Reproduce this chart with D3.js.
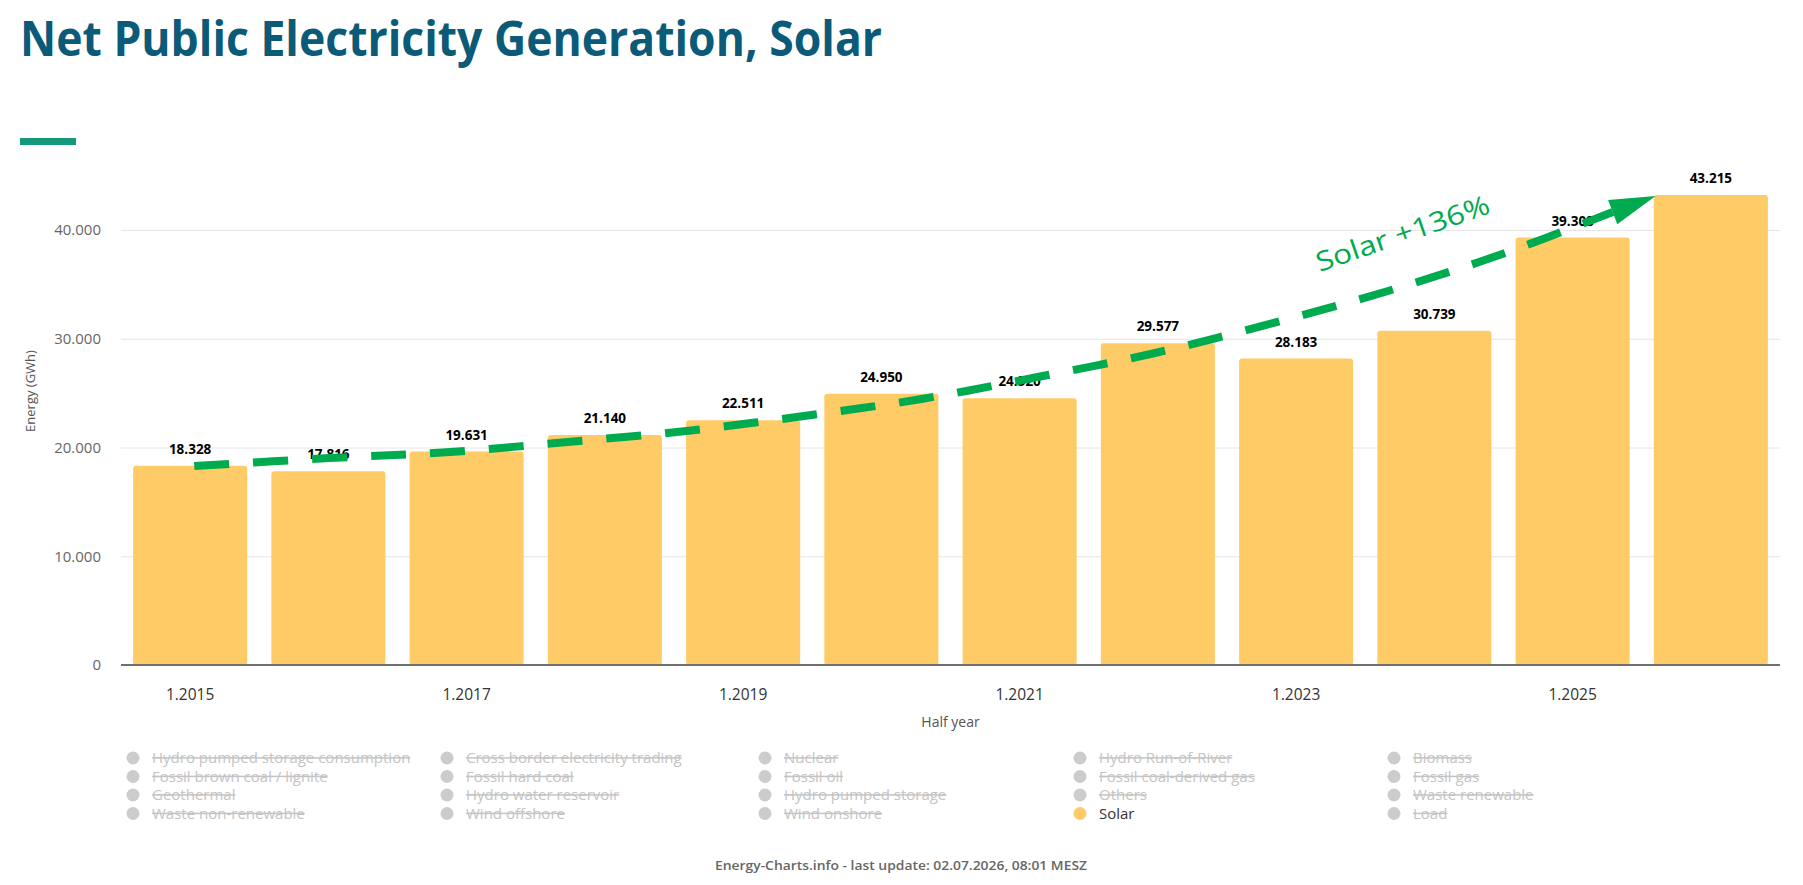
<!DOCTYPE html>
<html>
<head>
<meta charset="utf-8">
<script src="https://cdn.jsdelivr.net/npm/d3@7"></script>
<style>
  body { margin: 0; background: #fff; }
  svg { display: block; font-family: "Open Sans", sans-serif; }
</style>
</head>
<body>
<div id="chart-area"></div>
<script>
// half-year categories (H1 of each year)
var categories = ["1.2015", "1.2016", "1.2017", "1.2018", "1.2019", "1.2020",
                  "1.2021", "1.2022", "1.2023", "1.2024", "1.2025", "1.2026"];
var solarValues = [18328, 17816, 19631, 21140, 22511, 24950,
                   24520, 29577, 28183, 30739, 39308, 43215];
var yTicks = [0, 10000, 20000, 30000, 40000];
var xTickLabels = ["1.2015", "1.2017", "1.2019", "1.2021", "1.2023", "1.2025"];

var legendItems = [
  "Hydro pumped storage consumption", "Cross border electricity trading", "Nuclear", "Hydro Run-of-River", "Biomass",
  "Fossil brown coal / lignite", "Fossil hard coal", "Fossil oil", "Fossil coal-derived gas", "Fossil gas",
  "Geothermal", "Hydro water reservoir", "Hydro pumped storage", "Others", "Waste renewable",
  "Waste non-renewable", "Wind offshore", "Wind onshore", "Solar", "Load"
];
var activeSeries = "Solar";

// trend arrow, in [band index, GWh]
var trendPoints = [[0.03, 18300], [1.01, 19030], [1.88, 19590], [2.73, 20510], [3.59, 21520],
                   [4.44, 22900], [5.29, 24460], [6.13, 26480], [6.98, 28690], [7.81, 31360],
                   [8.64, 34300], [9.47, 37700], [10.29, 41650]];
var trendTip = [10.6, 43130];
var trendLabel = "Solar +136%";
var trendLabelPos = [8.17, 36140];

var W = 1803, H = 885;
var plot = { left: 121, right: 1780, top: 230, bottom: 665 };

var svg = d3.select("#chart-area").append("svg")
    .attr("width", W).attr("height", H);

var loc = d3.formatLocale({ decimal: ",", thousands: ".", grouping: [3], currency: ["", " €"] });
var fmt = loc.format(",.0f");

var x = d3.scaleBand()
    .domain(categories)
    .range([plot.left, plot.right])
    .paddingInner(0.175)
    .paddingOuter(0.0875);

var y = d3.scaleLinear()
    .domain([0, 40000])
    .range([plot.bottom, plot.top]);

function xi(i) { return x(categories[0]) + x.bandwidth() / 2 + i * x.step(); }

// title
svg.append("text")
    .attr("x", 20).attr("y", 56)
    .attr("fill", "#0a5a78")
    .style("font-family", "'Liberation Sans Narrow', 'Open Sans', sans-serif")
    .style("font-weight", 700)
    .style("font-size", "49px")
    .attr("textLength", 862)
    .attr("lengthAdjust", "spacingAndGlyphs")
    .text("Net Public Electricity Generation, Solar");

svg.append("rect")
    .attr("x", 20).attr("y", 138).attr("width", 56).attr("height", 7)
    .attr("fill", "#17977a");

// y axis + grid
var yAxis = d3.axisLeft(y)
    .tickValues(yTicks)
    .tickSize(-(plot.right - plot.left))
    .tickPadding(20)
    .tickFormat(fmt);

var gy = svg.append("g")
    .attr("transform", "translate(" + plot.left + ",0)")
    .call(yAxis);
gy.select(".domain").remove();
gy.selectAll(".tick line").attr("stroke", "#e6e6e6");
gy.selectAll(".tick text")
    .attr("fill", "#666")
    .style("font-size", "15px")
    .style("font-family", "'Open Sans', sans-serif");

svg.append("text")
    .attr("transform", "translate(35," + 391 + ") rotate(-90)")
    .attr("text-anchor", "middle")
    .attr("fill", "#555")
    .style("font-size", "13px")
    .text("Energy (GWh)");

// bars
svg.append("g").selectAll("rect")
    .data(solarValues)
    .enter().append("rect")
    .attr("x", function (d, i) { return x(categories[i]); })
    .attr("y", function (d) { return y(d); })
    .attr("width", x.bandwidth())
    .attr("height", function (d) { return y(0) - y(d); })
    .attr("rx", 3)
    .attr("fill", "#fecb66");

// x axis
var xAxis = d3.axisBottom(x)
    .tickValues(xTickLabels)
    .tickSize(0)
    .tickPadding(24);

var gx = svg.append("g")
    .attr("transform", "translate(0," + plot.bottom + ")")
    .call(xAxis);
gx.select(".domain").remove();
gx.selectAll(".tick text")
    .attr("fill", "#333")
    .style("font-size", "15.5px")
    .style("font-family", "'Open Sans', sans-serif");

svg.append("line")
    .attr("x1", plot.left).attr("x2", plot.right)
    .attr("y1", plot.bottom).attr("y2", plot.bottom)
    .attr("stroke", "#6f6f6f").attr("stroke-width", 2);

svg.append("text")
    .attr("x", (plot.left + plot.right) / 2).attr("y", 727)
    .attr("text-anchor", "middle")
    .attr("fill", "#555")
    .style("font-size", "14px")
    .text("Half year");

// data labels
svg.append("g").selectAll("text")
    .data(solarValues)
    .enter().append("text")
    .attr("x", function (d, i) { return x(categories[i]) + x.bandwidth() / 2; })
    .attr("y", function (d) { return y(d) - 12; })
    .attr("text-anchor", "middle")
    .attr("fill", "#000")
    .style("font-size", "13.5px")
    .style("font-weight", 700)
    .text(function (d) { return fmt(d); });

// trend arrow
var green = "#00aa4e";
var line = d3.line()
    .x(function (d) { return xi(d[0]); })
    .y(function (d) { return y(d[1]); })
    .curve(d3.curveCatmullRom);

svg.append("path")
    .attr("d", line(trendPoints))
    .attr("fill", "none")
    .attr("stroke", green)
    .attr("stroke-width", 8)
    .attr("stroke-dasharray", "35 24");

var base = trendPoints[trendPoints.length - 1];
var bx = xi(base[0]), by = y(base[1]);
var tx = xi(trendTip[0]), ty = y(trendTip[1]);
var ang = Math.atan2(ty - by, tx - bx);
var hw = 13;
var nx = -Math.sin(ang) * hw, ny = Math.cos(ang) * hw;
svg.append("path")
    .attr("d", "M" + tx + "," + ty + "L" + (bx + nx) + "," + (by + ny) +
               "L" + (bx - nx) + "," + (by - ny) + "Z")
    .attr("fill", green);

svg.append("text")
    .attr("transform", "translate(" + xi(trendLabelPos[0]) + "," + y(trendLabelPos[1]) + ") rotate(-19)")
    .attr("fill", green)
    .style("font-size", "27px")
    .style("font-weight", 400)
    .attr("textLength", 182)
    .attr("lengthAdjust", "spacingAndGlyphs")
    .text(trendLabel);

// legend
var legCols = [133, 447, 765, 1080, 1394];
var legRows = [758, 776.5, 795, 813.5];
var leg = svg.append("g").selectAll("g")
    .data(legendItems)
    .enter().append("g")
    .attr("transform", function (d, i) {
      return "translate(" + legCols[i % 5] + "," + legRows[Math.floor(i / 5)] + ")";
    });

leg.append("circle")
    .attr("r", 6.5)
    .attr("fill", function (d) { return d === activeSeries ? "#fecb66" : "#cccccc"; });

leg.append("text")
    .attr("x", 19).attr("dy", "0.35em")
    .attr("fill", function (d) { return d === activeSeries ? "#333" : "#c4c4c4"; })
    .style("font-size", "15px")
    .style("text-decoration", function (d) { return d === activeSeries ? "none" : "line-through"; })
    .text(function (d) { return d; });

// footer
svg.append("text")
    .attr("x", 901).attr("y", 870)
    .attr("text-anchor", "middle")
    .attr("fill", "#666")
    .style("font-size", "13px")
    .style("font-weight", 600)
    .attr("textLength", 372)
    .attr("lengthAdjust", "spacingAndGlyphs")
    .text("Energy-Charts.info - last update: 02.07.2026, 08:01 MESZ");
</script>
</body>
</html>
